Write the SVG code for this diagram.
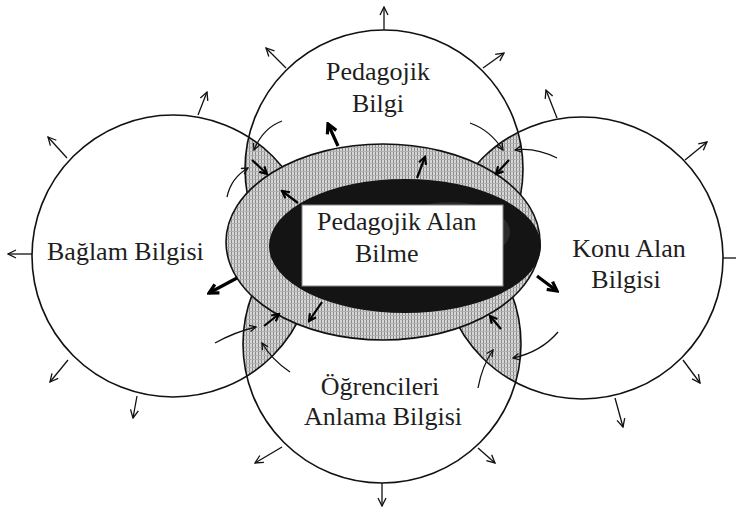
<svg xmlns="http://www.w3.org/2000/svg" width="736" height="511" viewBox="0 0 736 511">
<style>
.lbl{font-family:"Liberation Serif","Times New Roman",serif;font-size:26px;fill:#1e1e1e}
.ring{fill:none;stroke:#111;stroke-width:1.6}
.thin{fill:none;stroke:#111;stroke-width:1.3;marker-end:url(#ah)}
.crv{fill:none;stroke:#111;stroke-width:1.3;marker-end:url(#ahs)}
.bold{fill:none;stroke:#000;stroke-width:3.2;marker-end:url(#ahb)}
.med{fill:none;stroke:#000;stroke-width:2.2;marker-end:url(#ahm)}
</style>
<defs>
<pattern id="dots" width="3" height="4" patternUnits="userSpaceOnUse">
<rect width="3" height="4" fill="#d6d6d6"/>
<rect x="0" y="0" width="1" height="4" fill="#8a8a8a"/>
<rect x="0" y="3" width="3" height="1" fill="#b0b0b0"/>
</pattern>
<clipPath id="cTop"><circle cx="384" cy="169" r="139"/></clipPath>
<clipPath id="cBot"><circle cx="382" cy="344" r="139"/></clipPath>
<marker id="ah" viewBox="0 0 10 10" refX="9" refY="5" markerWidth="10" markerHeight="10" markerUnits="userSpaceOnUse" orient="auto">
<path d="M1,1 L9,5 L1,9" fill="none" stroke="#111" stroke-width="1.3"/>
</marker>
<marker id="ahs" viewBox="0 0 10 10" refX="9" refY="5" markerWidth="8" markerHeight="8" markerUnits="userSpaceOnUse" orient="auto">
<path d="M1,1 L9,5 L1,9" fill="none" stroke="#111" stroke-width="1.6"/>
</marker>
<marker id="ahb" viewBox="0 0 12 12" refX="10" refY="6" markerWidth="13" markerHeight="13" markerUnits="userSpaceOnUse" orient="auto">
<path d="M1.5,1.5 L10,6 L1.5,10.5" fill="none" stroke="#000" stroke-width="3"/>
</marker>
<marker id="ahm" viewBox="0 0 12 12" refX="10" refY="6" markerWidth="10" markerHeight="10" markerUnits="userSpaceOnUse" orient="auto">
<path d="M1.5,1.5 L10,6 L1.5,10.5" fill="none" stroke="#000" stroke-width="2.6"/>
</marker>
</defs>
<rect width="736" height="511" fill="#fff"/>

<g id="overlaps">
<circle cx="173" cy="256" r="141" fill="url(#dots)" clip-path="url(#cTop)"/>
<circle cx="582" cy="258" r="141" fill="url(#dots)" clip-path="url(#cTop)"/>
<circle cx="173" cy="256" r="141" fill="url(#dots)" clip-path="url(#cBot)"/>
<circle cx="582" cy="258" r="141" fill="url(#dots)" clip-path="url(#cBot)"/>
</g>

<g id="pedagojik-bilgi">
<circle class="ring" cx="384" cy="169" r="139"/>
<text class="lbl" x="378" y="80" text-anchor="middle">Pedagojik</text>
<text class="lbl" x="378" y="112" text-anchor="middle">Bilgi</text>
</g>
<g id="baglam-bilgisi">
<circle class="ring" cx="173" cy="256" r="141"/>
<text class="lbl" x="47" y="260">Bağlam Bilgisi</text>
</g>
<g id="konu-alan-bilgisi">
<circle class="ring" cx="582" cy="258" r="141"/>
<text class="lbl" x="629" y="257" text-anchor="middle">Konu Alan</text>
<text class="lbl" x="626" y="288" text-anchor="middle">Bilgisi</text>
</g>
<g id="ogrencileri-anlama-bilgisi">
<circle class="ring" cx="382" cy="344" r="139"/>
<text class="lbl" x="380" y="395" text-anchor="middle">Öğrencileri</text>
<text class="lbl" x="383" y="425" text-anchor="middle">Anlama Bilgisi</text>
</g>

<g id="pedagojik-alan-bilme">
<ellipse cx="383" cy="242" rx="157" ry="98" fill="url(#dots)" stroke="#111" stroke-width="1.6"/>
<ellipse cx="405" cy="246" rx="136" ry="67" fill="#141414"/>
<ellipse cx="450" cy="232" rx="60" ry="30" fill="#2a2a2a"/>
<rect x="302" y="205" width="201" height="81" fill="#fff" stroke="#888" stroke-width="1"/>
<text class="lbl" x="317" y="230">Pedagojik Alan</text>
<text class="lbl" x="355" y="262">Bilme</text>
</g>

<g id="connectors">
<line class="thin" x1="384" y1="30" x2="384" y2="7"/>
<line class="thin" x1="286" y1="68" x2="266" y2="48"/>
<line class="thin" x1="483" y1="68" x2="504" y2="53"/>
<line class="thin" x1="198" y1="115" x2="207" y2="92"/>
<line class="thin" x1="67" y1="158" x2="48" y2="137"/>
<line class="thin" x1="32" y1="254" x2="8" y2="254"/>
<line class="thin" x1="68" y1="360" x2="50" y2="382"/>
<line class="thin" x1="137" y1="396" x2="133" y2="418"/>
<line class="thin" x1="557" y1="118" x2="546" y2="90"/>
<line class="thin" x1="685" y1="160" x2="707" y2="142"/>
<line class="thin" x1="723" y1="258" x2="748" y2="258"/>
<line class="thin" x1="683" y1="360" x2="700" y2="383"/>
<line class="thin" x1="615" y1="398" x2="623" y2="427"/>
<line class="thin" x1="282" y1="447" x2="255" y2="463"/>
<line class="thin" x1="382" y1="483" x2="382" y2="506"/>
<line class="thin" x1="478" y1="448" x2="495" y2="463"/>

<line class="bold" x1="338" y1="146" x2="328" y2="124"/>
<line class="bold" x1="237" y1="278" x2="209" y2="293"/>
<line class="bold" x1="537" y1="276" x2="557" y2="291"/>
<line class="med" x1="322" y1="302" x2="309" y2="321"/>
<line class="med" x1="417" y1="178" x2="425" y2="157"/>
<line class="med" x1="298" y1="203" x2="282" y2="191"/>

<line class="med" x1="252" y1="160" x2="267" y2="174"/>
<line class="med" x1="509" y1="160" x2="496" y2="174"/>
<line class="med" x1="264" y1="326" x2="279" y2="314"/>
<line class="med" x1="501" y1="329" x2="490" y2="316"/>

<path class="crv" d="M282,121 Q263,128 254,150"/>
<path class="crv" d="M227,197 Q231,178 248,168"/>
<path class="crv" d="M470,123 Q490,130 503,150"/>
<path class="crv" d="M557,158 Q535,147 515,150"/>
<path class="crv" d="M215,343 Q235,332 256,327"/>
<path class="crv" d="M290,372 Q272,360 262,343"/>
<path class="crv" d="M558,332 Q541,352 513,358"/>
<path class="crv" d="M478,388 Q482,366 493,350"/>
</g>
</svg>
